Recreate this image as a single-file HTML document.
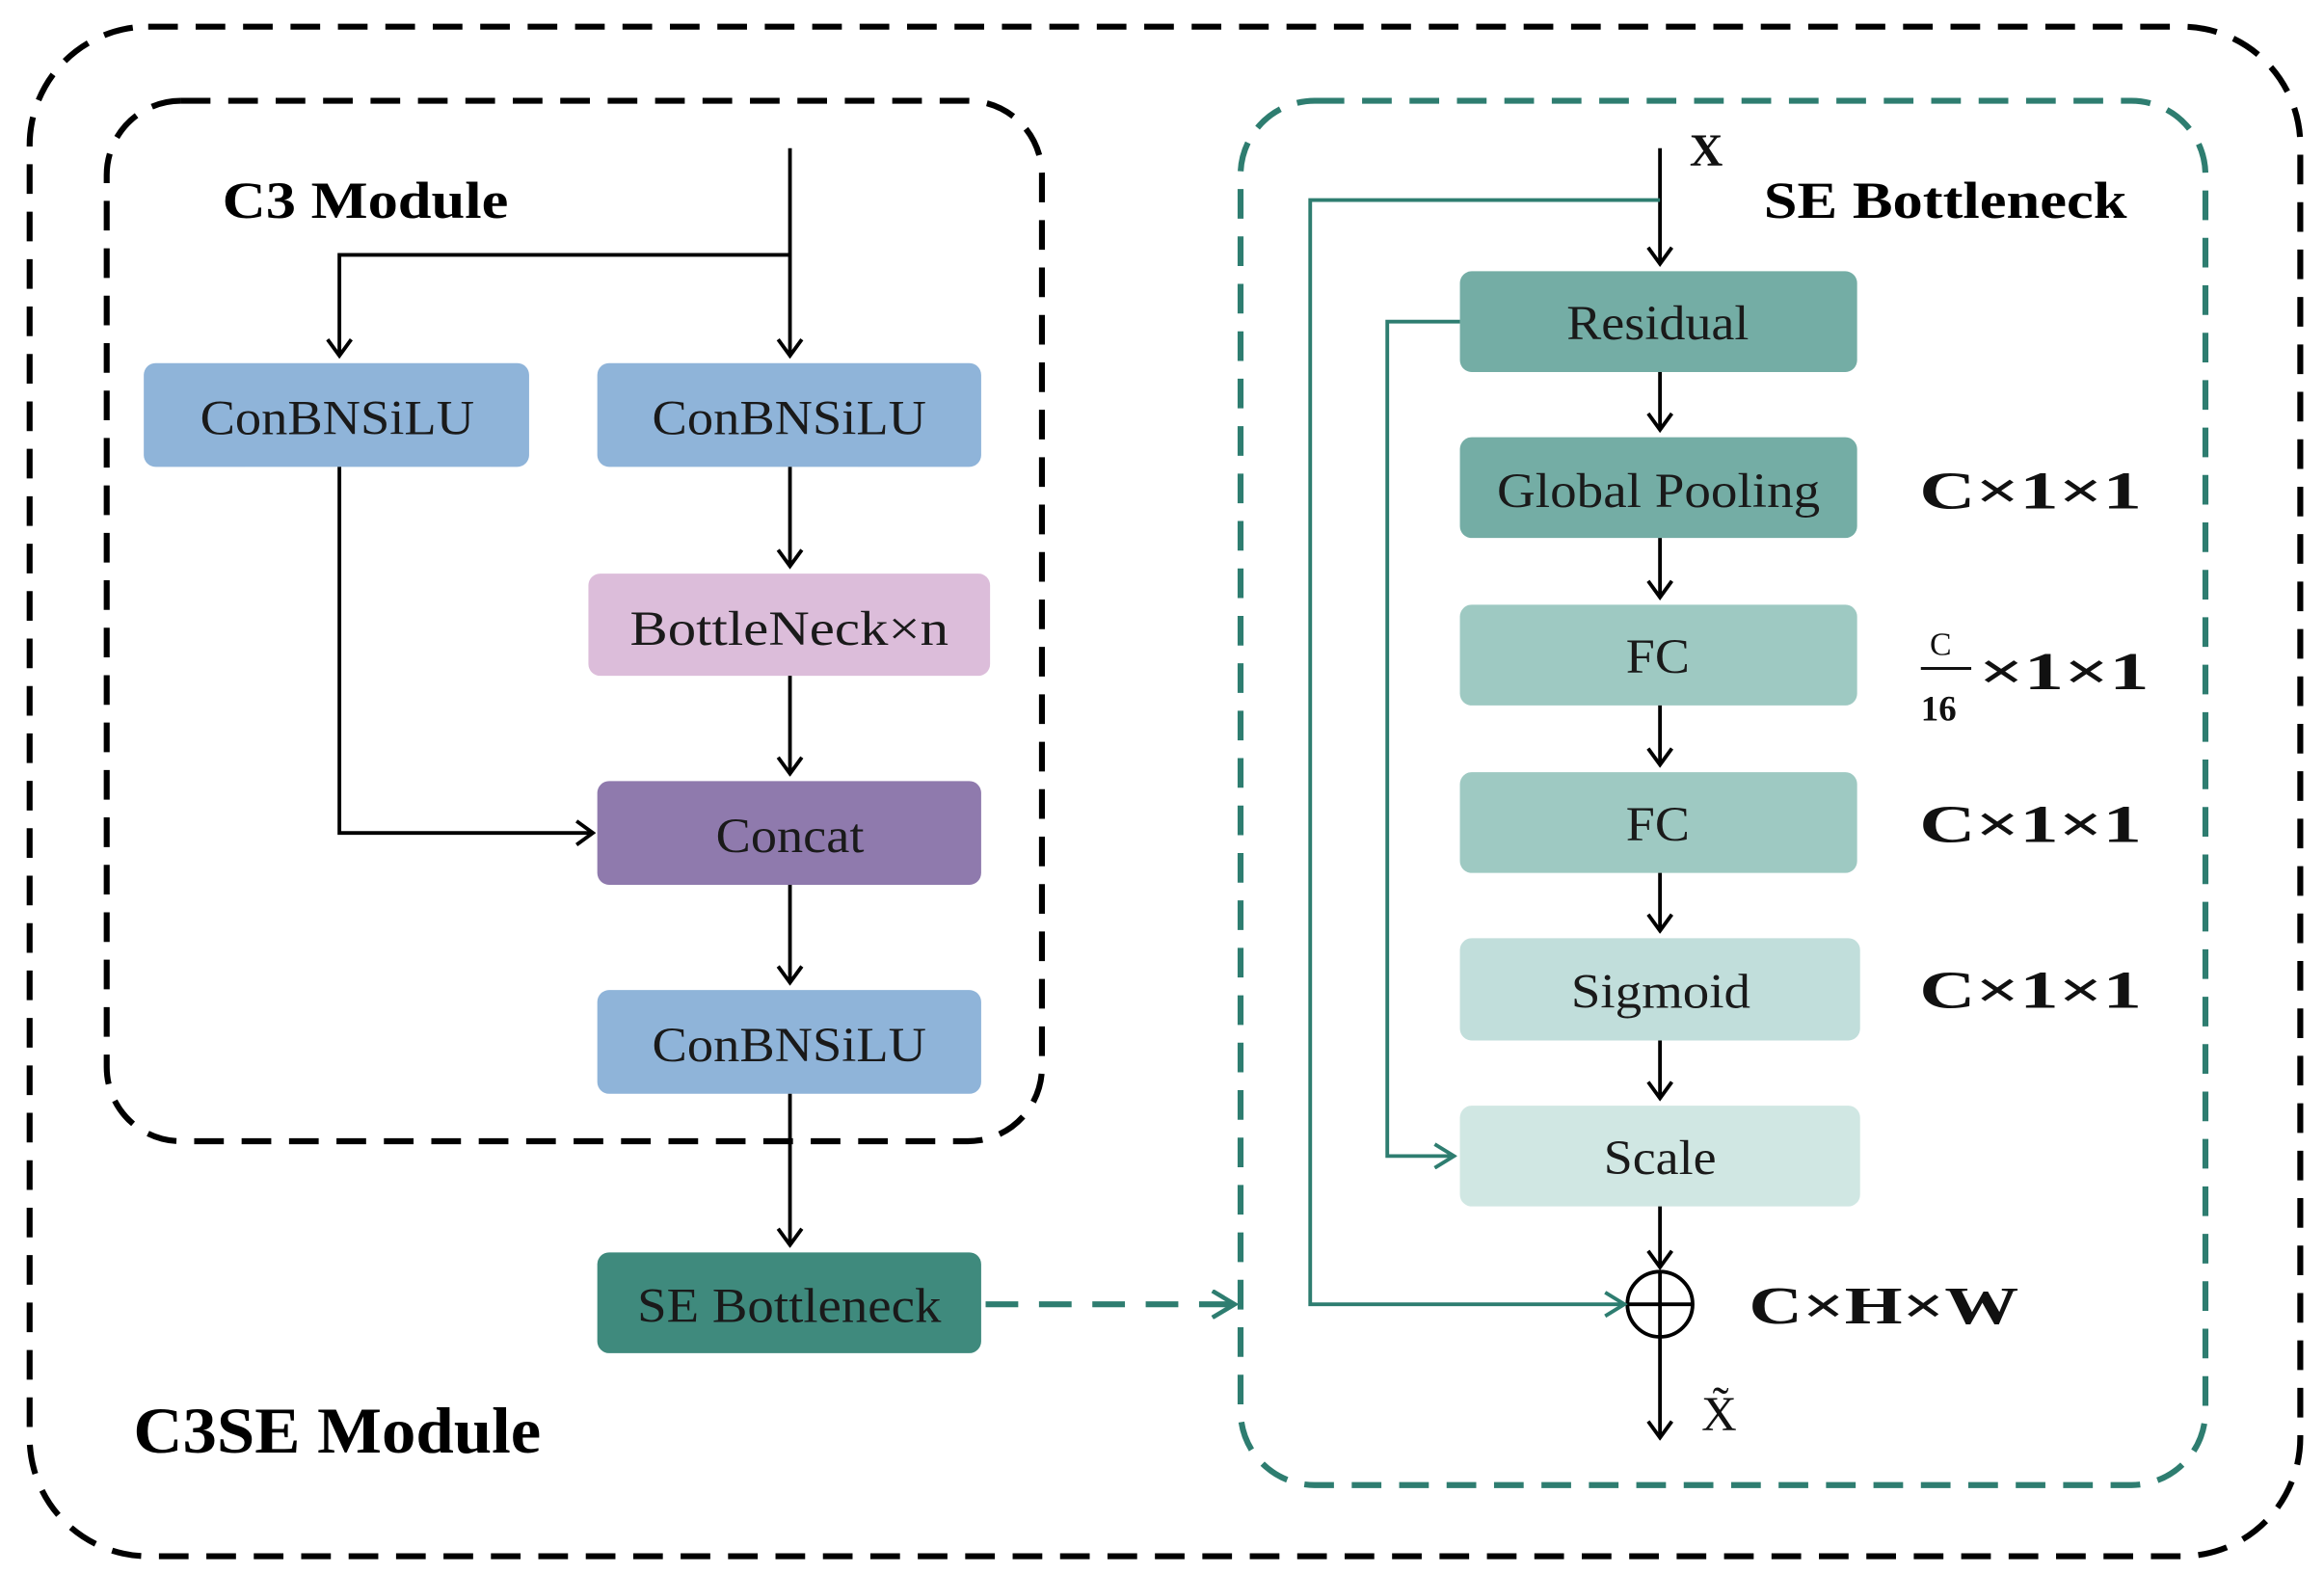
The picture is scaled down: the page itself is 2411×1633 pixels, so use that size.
<!DOCTYPE html>
<html><head><meta charset="utf-8"><style>
html,body{margin:0;padding:0;background:#fff;}
svg{display:block;}
text{font-family:"Liberation Serif",serif;}
</style></head><body>
<svg width="2411" height="1633" viewBox="0 0 1568 1062" preserveAspectRatio="none" xmlns="http://www.w3.org/2000/svg">
<defs>
<marker id="a" markerWidth="14" markerHeight="18" refX="12" refY="9" orient="auto" markerUnits="userSpaceOnUse"><path d="M1,1 L12,9 L1,17" fill="none" stroke="#000" stroke-width="2.5"/></marker>
<marker id="t" markerWidth="18" markerHeight="20" refX="16" refY="10" orient="auto" markerUnits="userSpaceOnUse"><path d="M1,1 L16,10 L1,19" fill="none" stroke="#2e7d70" stroke-width="3"/></marker>
<marker id="g" markerWidth="16" markerHeight="18" refX="14" refY="9" orient="auto" markerUnits="userSpaceOnUse"><path d="M1,1 L14,9 L1,17" fill="none" stroke="#2e7d70" stroke-width="2.5"/></marker>
</defs>
<rect x="20" y="18" width="1532" height="1032" rx="80" fill="none" stroke="#000" stroke-width="4" stroke-dasharray="20,12"/>
<rect x="72" y="68" width="631" height="702" rx="50" fill="none" stroke="#000" stroke-width="4" stroke-dasharray="20,12"/>
<rect x="837" y="68" width="651" height="934" rx="50" fill="none" stroke="#2e7d70" stroke-width="4" stroke-dasharray="20,12"/>
<text x="150" y="147" font-size="35" font-weight="bold" textLength="193" lengthAdjust="spacingAndGlyphs">C3 Module</text>
<text x="90" y="980" font-size="44" font-weight="bold" textLength="275" lengthAdjust="spacingAndGlyphs">C3SE Module</text>
<text x="1190" y="147" font-size="35" font-weight="bold" textLength="245" lengthAdjust="spacingAndGlyphs">SE Bottleneck</text>
<g font-size="33" fill="#1a1a1a">
<rect x="97" y="245" width="260" height="70" rx="8" fill="#8fb4d9"/><text x="135" y="293" textLength="185" lengthAdjust="spacingAndGlyphs">ConBNSiLU</text>
<rect x="403" y="245" width="259" height="70" rx="8" fill="#8fb4d9"/><text x="440" y="293" textLength="185" lengthAdjust="spacingAndGlyphs">ConBNSiLU</text>
<rect x="397" y="387" width="271" height="69" rx="8" fill="#dcbdda"/><text x="425" y="435" textLength="215" lengthAdjust="spacingAndGlyphs">BottleNeck×n</text>
<rect x="403" y="527" width="259" height="70" rx="8" fill="#8f7aad"/><text x="483" y="575" textLength="100" lengthAdjust="spacingAndGlyphs">Concat</text>
<rect x="403" y="668" width="259" height="70" rx="8" fill="#8fb4d9"/><text x="440" y="716" textLength="185" lengthAdjust="spacingAndGlyphs">ConBNSiLU</text>
<rect x="403" y="845" width="259" height="68" rx="8" fill="#3f8a7d"/><text x="430" y="892" textLength="205" lengthAdjust="spacingAndGlyphs">SE Bottleneck</text>
<rect x="985" y="183" width="268" height="68" rx="8" fill="#74ada5"/><text x="1057" y="229" textLength="123" lengthAdjust="spacingAndGlyphs">Residual</text>
<rect x="985" y="295" width="268" height="68" rx="8" fill="#74ada5"/><text x="1010" y="342" textLength="218" lengthAdjust="spacingAndGlyphs">Global Pooling</text>
<rect x="985" y="408" width="268" height="68" rx="8" fill="#9ec9c2"/><text x="1097" y="454" textLength="43" lengthAdjust="spacingAndGlyphs">FC</text>
<rect x="985" y="521" width="268" height="68" rx="8" fill="#9ec9c2"/><text x="1097" y="567" textLength="43" lengthAdjust="spacingAndGlyphs">FC</text>
<rect x="985" y="633" width="270" height="69" rx="8" fill="#c1dedb"/><text x="1060" y="680" textLength="121" lengthAdjust="spacingAndGlyphs">Sigmoid</text>
<rect x="985" y="746" width="270" height="68" rx="8" fill="#d0e7e3"/><text x="1082" y="792" textLength="76" lengthAdjust="spacingAndGlyphs">Scale</text>
</g>
<g stroke="#000" stroke-width="2.5" fill="none">
<path d="M533,100 V240" marker-end="url(#a)"/>
<path d="M533,172 H229 V240" marker-end="url(#a)"/>
<path d="M229,315 V562 H400" marker-end="url(#a)"/>
<path d="M533,315 V382" marker-end="url(#a)"/>
<path d="M533,456 V522" marker-end="url(#a)"/>
<path d="M533,597 V663" marker-end="url(#a)"/>
<path d="M533,738 V840" marker-end="url(#a)"/>
<path d="M1120,100 V178" marker-end="url(#a)"/>
<path d="M1120,251 V290" marker-end="url(#a)"/>
<path d="M1120,363 V403" marker-end="url(#a)"/>
<path d="M1120,476 V516" marker-end="url(#a)"/>
<path d="M1120,589 V628" marker-end="url(#a)"/>
<path d="M1120,702 V741" marker-end="url(#a)"/>
<path d="M1120,814 V855" marker-end="url(#a)"/>
<path d="M1120,902 V970" marker-end="url(#a)"/>
<circle cx="1120" cy="880" r="22"/>
<path d="M1098,880 H1142 M1120,858 V902"/>
</g>
<g stroke="#2e7d70" stroke-width="2.5" fill="none">
<path d="M1120,135 H884 V880 H1096" marker-end="url(#g)"/>
<path d="M985,217 H936 V780 H981" marker-end="url(#g)"/>
<path d="M665,880 H833" stroke-width="4" stroke-dasharray="22,14" marker-end="url(#t)"/>
</g>
<g font-weight="bold" font-size="36" fill="#111">
<text x="1140" y="112" font-size="31">X</text>
<text x="1295" y="343" textLength="150" lengthAdjust="spacingAndGlyphs">C×1×1</text>
<text x="1335" y="465" textLength="115" lengthAdjust="spacingAndGlyphs">×1×1</text>
<text x="1302" y="442" font-size="22" font-weight="normal">C</text>
<line x1="1296" y1="451" x2="1330" y2="451" stroke="#111" stroke-width="2"/>
<text x="1296" y="486" font-size="24">16</text>
<text x="1295" y="568" textLength="150" lengthAdjust="spacingAndGlyphs">C×1×1</text>
<text x="1295" y="680" textLength="150" lengthAdjust="spacingAndGlyphs">C×1×1</text>
<text x="1180" y="893" textLength="182" lengthAdjust="spacingAndGlyphs">C×H×W</text>
<text x="1148" y="965" font-weight="normal" font-size="33">X̃</text>
</g>
</svg>
</body></html>
